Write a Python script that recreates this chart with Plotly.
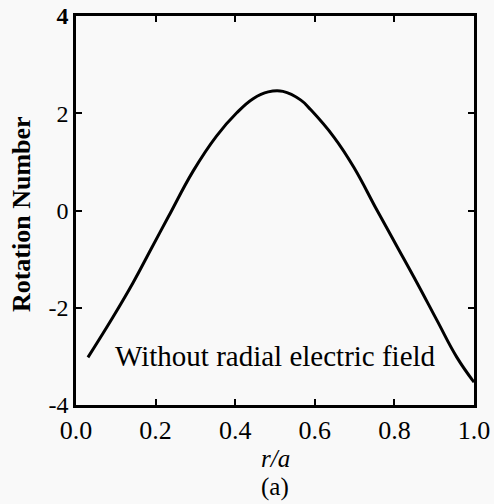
import plotly.graph_objects as go

r_over_a = [0.03, 0.093, 0.143, 0.19, 0.232, 0.295, 0.353, 0.404, 0.445, 0.483, 0.52,
            0.565, 0.59, 0.648, 0.698, 0.756, 0.81, 0.857, 0.907, 0.957, 1.0]
rotation_number = [-3.02, -2.19, -1.49, -0.77, -0.13, 0.82, 1.53, 2.01, 2.3, 2.44, 2.45,
                   2.27, 2.07, 1.51, 0.89, 0.01, -0.79, -1.49, -2.26, -3.02, -3.53]

x_tickvals = [0.0, 0.2, 0.4, 0.6, 0.8, 1.0]
x_ticktext = ["0.0", "0.2", "0.4", "0.6", "0.8", "1.0"]
y_tickvals = [-4, -2, 0, 2, 4]
y_ticktext = ["-4", "-2", "0", "2", "<b>4</b>"]

label_text = "Without radial electric field"
y_title = "Rotation Number"
x_title = "<i>r/a</i>"
panel_label = "(a)"

BG = "#f9f9f9"
FONT = "Liberation Serif"

fig = go.Figure()
fig.add_trace(go.Scatter(
    x=r_over_a, y=rotation_number, mode="lines",
    line=dict(color="black", width=3, shape="spline", smoothing=1.2),
    showlegend=False, hoverinfo="skip"))

axis_common = dict(
    showline=True, linecolor="black", linewidth=2.5, mirror="ticks",
    ticks="inside", ticklen=6, tickwidth=2, tickcolor="black",
    showgrid=False, zeroline=False, automargin=False,
)

fig.update_layout(
    width=494, height=504,
    margin=dict(l=76, r=20, t=16, b=99),
    paper_bgcolor=BG, plot_bgcolor=BG,
    xaxis=dict(range=[0, 1.0], tickvals=x_tickvals, ticktext=x_ticktext,
               tickfont=dict(family=FONT, size=26, color="black"), **axis_common),
    yaxis=dict(range=[-4, 4], tickvals=y_tickvals, ticktext=y_ticktext,
               tickfont=dict(family=FONT, size=24, color="black"), **axis_common),
    font=dict(family=FONT, color="black"),
)

fig.add_annotation(x=0.5, y=-3.0, xref="x", yref="y", text=label_text,
                   showarrow=False, font=dict(family=FONT, size=29, color="black"))
fig.add_annotation(x=-0.138, y=0.491, xref="paper", yref="paper", text="<b>" + y_title + "</b>",
                   textangle=-90, showarrow=False, xanchor="center", yanchor="middle",
                   font=dict(family=FONT, size=26, color="black"))
fig.add_annotation(x=0.5, y=-0.138, xref="paper", yref="paper", text=x_title,
                   showarrow=False, xanchor="center", yanchor="middle",
                   font=dict(family=FONT, size=25, color="black"))
fig.add_annotation(x=0.5, y=-0.21, xref="paper", yref="paper", text=panel_label,
                   showarrow=False, xanchor="center", yanchor="middle",
                   font=dict(family=FONT, size=25, color="black"))

fig.write_html("out.html", config={"displayModeBar": False},
               post_script="document.body.style.margin='0px';")
